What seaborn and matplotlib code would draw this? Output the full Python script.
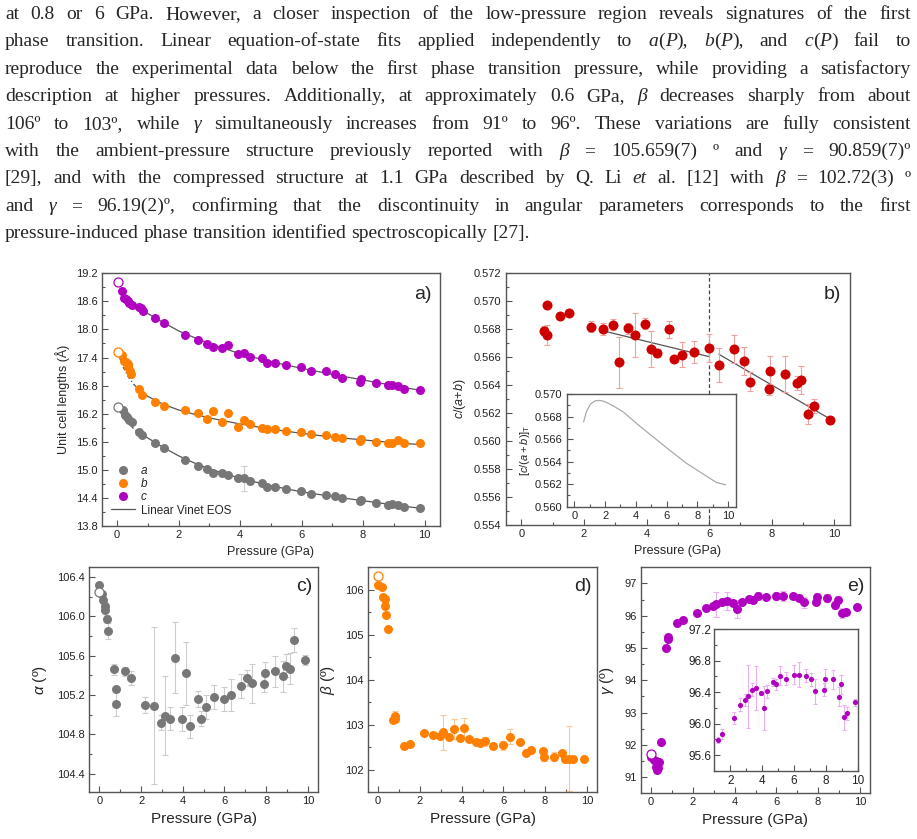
import numpy as np
import matplotlib
matplotlib.use("Agg")
import matplotlib.pyplot as plt
import seaborn as sns
from matplotlib.lines import Line2D
from matplotlib.ticker import MultipleLocator, AutoMinorLocator, FormatStrFormatter

sns.set_style("ticks")
plt.rcParams['font.family'] = ['Liberation Sans', 'DejaVu Sans']
plt.rcParams['mathtext.fontset'] = 'custom'
plt.rcParams['mathtext.rm'] = 'Liberation Sans'
plt.rcParams['mathtext.it'] = 'Liberation Sans:italic'
plt.rcParams['mathtext.bf'] = 'Liberation Sans:bold'

W, H = 917, 839

# ---------------- page text above the figure ----------------
TEXT_LINES = [
    "at 0.8 or 6 GPa. However, a closer inspection of the low-pressure region reveals signatures of the first",
    "phase transition. Linear equation-of-state fits applied independently to *a*(*P*), *b*(*P*), and *c*(*P*) fail to",
    "reproduce the experimental data below the first phase transition pressure, while providing a satisfactory",
    "description at higher pressures. Additionally, at approximately 0.6 GPa, *β* decreases sharply from about",
    "106º to 103º, while *γ* simultaneously increases from 91º to 96º. These variations are fully consistent",
    "with the ambient-pressure structure previously reported with *β* = 105.659(7) º and *γ* = 90.859(7)º",
    "[29], and with the compressed structure at 1.1 GPa described by Q. Li *et al.* [12] with *β* = 102.72(3) º",
    "and *γ* = 96.19(2)º, confirming that the discontinuity in angular parameters corresponds to the first",
    "pressure-induced phase transition identified spectroscopically [27].",
]

# ---------------- panel a: unit cell lengths ----------------
P_HIGH = [1.22, 1.51, 2.21, 2.62, 2.94, 3.13, 3.40, 3.62, 3.94, 4.13, 4.33, 4.71, 4.87, 5.13,
          5.50, 5.98, 6.31, 6.79, 7.10, 7.32, 7.90, 7.94, 8.43, 8.82, 8.95, 9.15, 9.34, 9.85]

P_A_LOW = [0.18, 0.25, 0.32, 0.40, 0.47, 0.70, 0.81]
A_LOW = [16.27, 16.17, 16.12, 16.06, 16.02, 15.80, 15.75]
A_HIGH = [15.57, 15.47, 15.20, 15.09, 15.02, 14.93, 14.93, 14.89, 14.82, 14.82, 14.76, 14.71, 14.64, 14.64,
          14.60, 14.55, 14.49, 14.47, 14.44, 14.39, 14.34, 14.36, 14.29, 14.24, 14.26, 14.24, 14.21, 14.18]
A_ERR_HIGH = [0.02, 0.02, 0.02, 0.02, 0.02, 0.02, 0.02, 0.02, 0.02, 0.27, 0.02, 0.02, 0.02, 0.02,
              0.02, 0.02, 0.02, 0.02, 0.02, 0.02, 0.02, 0.02, 0.02, 0.02, 0.02, 0.02, 0.02, 0.02]

P_B_LOW = [0.16, 0.21, 0.29, 0.34, 0.35, 0.41, 0.46, 0.70, 0.81]
B_LOW = [17.45, 17.32, 17.30, 17.27, 17.20, 17.12, 17.04, 16.72, 16.59]
B_HIGH = [16.45, 16.37, 16.27, 16.21, 16.08, 16.25, 16.03, 16.21, 15.92, 16.07, 15.99, 15.90, 15.87, 15.87,
          15.83, 15.80, 15.77, 15.74, 15.71, 15.67, 15.62, 15.66, 15.59, 15.57, 15.57, 15.64, 15.57, 15.57]
B_ERR_HIGH = [0.02, 0.02, 0.02, 0.02, 0.02, 0.08, 0.02, 0.05, 0.02, 0.06, 0.02, 0.02, 0.02, 0.02,
              0.02, 0.02, 0.02, 0.02, 0.02, 0.02, 0.02, 0.02, 0.02, 0.02, 0.02, 0.02, 0.02, 0.02]

P_C_LOW = [0.17, 0.21, 0.29, 0.34, 0.40, 0.47, 0.70, 0.79, 0.84]
C_LOW = [18.83, 18.68, 18.65, 18.60, 18.56, 18.53, 18.48, 18.46, 18.40]
C_HIGH = [18.24, 18.13, 17.88, 17.78, 17.68, 17.63, 17.60, 17.66, 17.47, 17.50, 17.42, 17.40, 17.28, 17.28,
          17.24, 17.20, 17.11, 17.12, 17.05, 16.96, 16.88, 16.95, 16.86, 16.81, 16.82, 16.79, 16.72, 16.70]

AMBIENT_ABC = [16.34, 17.52, 19.01]   # open symbols at 0 GPa

# Vinet fits
FIT_LOW_P = [0.08, 0.21, 0.38, 0.54, 0.66]
FIT_A_LOW = [16.29, 16.15, 15.99, 15.88, 15.82]
FIT_B_LOW = [17.40, 17.18, 16.97, 16.83, 16.75]
FIT_P = [0.66, 1.0, 1.5, 2.0, 2.5, 3.0, 4.0, 5.0, 6.0, 7.0, 8.0, 9.0, 9.85]
FIT_A = [15.82, 15.68, 15.48, 15.30, 15.15, 15.02, 14.82, 14.66, 14.53, 14.43, 14.34, 14.25, 14.18]
FIT_B = [16.75, 16.57, 16.40, 16.28, 16.19, 16.11, 15.98, 15.87, 15.78, 15.70, 15.64, 15.58, 15.54]
FIT_C_P = [0.70, 1.0, 1.5, 2.0, 2.5, 3.0, 4.0, 5.0, 6.0, 7.0, 8.0, 9.0, 9.85]
FIT_C = [18.46, 18.34, 18.15, 17.97, 17.83, 17.70, 17.48, 17.31, 17.17, 17.04, 16.92, 16.80, 16.70]

# ---------------- panel b: c/(a+b) ----------------
P_R_LOW = [0.72, 0.81, 0.81]
R_LOW = [0.56790, 0.56971, 0.56759]
R_ERR_LOW = [0.0003, 0.0001, 0.0007]
R_HIGH = [0.56897, 0.56914, 0.56819, 0.56802, 0.56833, 0.56563, 0.56807, 0.56759, 0.56840, 0.56659,
          0.56628, 0.56800, 0.56587, 0.56618, 0.56637, 0.56664, 0.56544, 0.56659, 0.56575, 0.56425,
          0.56370, 0.56501, 0.56480, 0.56413, 0.56437, 0.56194, 0.56249, 0.56151]
R_ERR_HIGH = [0.0002, 0.0002, 0.0004, 0.0004, 0.0004, 0.0018, 0.0004, 0.0016, 0.0004, 0.0013,
              0.0003, 0.0006, 0.0002, 0.0009, 0.0008, 0.0010, 0.0012, 0.0010, 0.0010, 0.0007,
              0.0004, 0.0011, 0.0013, 0.0005, 0.0010, 0.0007, 0.0005, 0.0001]
FIT_R1_P = [2.62, 5.98]
FIT_R1 = [0.56788, 0.56605]
FIT_R2_P = [6.31, 9.85]
FIT_R2 = [0.56621, 0.56160]
P_TRANSITION = 6.0
# inset: theoretical ratio
INSET_R_P = [0.60, 0.78, 1.04, 1.36, 1.68, 2.01, 2.55, 3.20, 4.06, 5.14, 6.22, 7.30, 8.38, 9.24, 9.85]
INSET_R = [0.56752, 0.56842, 0.56910, 0.56940, 0.56943, 0.56931, 0.56893, 0.56839, 0.56737, 0.56618,
           0.56499, 0.56385, 0.56290, 0.56215, 0.56194]

# ---------------- panel c: alpha ----------------
P_AL_LOW = [0.00, 0.14, 0.19, 0.29, 0.29, 0.34, 0.43, 0.70, 0.80, 0.80]
AL_LOW = [106.315, 106.23, 106.17, 106.11, 106.07, 105.97, 105.85, 105.46, 105.26, 105.11]
AL_ERR_LOW = [0.02, 0.02, 0.02, 0.03, 0.03, 0.04, 0.08, 0.06, 0.03, 0.12]
AL_HIGH = [105.44, 105.37, 105.10, 105.09, 104.92, 104.99, 104.96, 105.58, 104.955, 105.42, 104.88, 105.16,
           104.96, 105.08, 105.18, 105.16, 105.20, 105.29, 105.37, 105.32, 105.31, 105.42, 105.44, 105.39,
           105.50, 105.47, 105.76, 105.56]
AL_ERR_HIGH = [0.05, 0.07, 0.08, 0.80, 0.08, 0.40, 0.12, 0.36, 0.12, 0.32, 0.12, 0.08, 0.08, 0.12,
               0.12, 0.12, 0.16, 0.12, 0.08, 0.20, 0.08, 0.12, 0.16, 0.16, 0.12, 0.16, 0.12, 0.05]
AL_AMBIENT = 106.25

# ---------------- panel d: beta ----------------
P_BE_LOW = [0.00, 0.18, 0.21, 0.33, 0.34, 0.37, 0.47, 0.72, 0.82, 0.82]
BE_LOW = [106.11, 106.07, 105.84, 105.63, 105.79, 105.43, 105.13, 103.10, 103.20, 103.12]
BE_ERR_LOW = [0.02, 0.02, 0.02, 0.02, 0.02, 0.03, 0.05, 0.03, 0.10, 0.03]
BE_HIGH = [102.54, 102.57, 102.82, 102.77, 102.75, 102.83, 102.73, 102.91, 102.71, 102.93, 102.68, 102.61,
           102.60, 102.64, 102.54, 102.55, 102.74, 102.62, 102.38, 102.45, 102.41, 102.29, 102.29, 102.37,
           102.23, 102.25, 102.25, 102.25]
BE_ERR_HIGH = [0.03, 0.03, 0.03, 0.03, 0.03, 0.38, 0.03, 0.22, 0.03, 0.22, 0.03, 0.03, 0.03, 0.10,
               0.05, 0.10, 0.17, 0.05, 0.05, 0.05, 0.05, 0.10, 0.10, 0.05, 0.05, 0.73, 0.03, 0.03]
BE_AMBIENT = 106.30

# ---------------- panel e: gamma ----------------
P_GA_LOW = [0.00, 0.14, 0.24, 0.24, 0.29, 0.32, 0.32, 0.40, 0.46, 0.70, 0.82, 0.82]
GA_LOW = [91.61, 91.54, 91.51, 91.33, 91.23, 91.28, 91.47, 91.47, 92.08, 95.01, 95.27, 95.35]
GA_HIGH = [95.79, 95.87, 96.07, 96.24, 96.30, 96.35, 96.43, 96.45, 96.39, 96.20, 96.41, 96.53, 96.50, 96.61,
           96.57, 96.62, 96.62, 96.61, 96.56, 96.41, 96.43, 96.57, 96.56, 96.34, 96.50, 96.08, 96.13, 96.27]
GA_ERR_HIGH = [0.04, 0.06, 0.08, 0.08, 0.08, 0.40, 0.08, 0.28, 0.03, 0.28, 0.08, 0.05, 0.07, 0.12,
               0.08, 0.12, 0.16, 0.08, 0.08, 0.16, 0.08, 0.12, 0.12, 0.12, 0.12, 0.16, 0.08, 0.04]
GA_AMBIENT = 91.72

GRAY, GRAY_ERR = '#777777', '#cccccc'
ORANGE, ORANGE_ERR = '#ff7f00', '#ffc690'
PURPLE, PURPLE_ERR = '#b000c0', '#eab0ef'
RED, RED_ERR = '#cc0000', '#f2a0a0'
FIT_COLOR = '#555555'
FRAME = '#555555'


def px_rect(left, top, right, bottom):
    return [left / W, 1 - bottom / H, (right - left) / W, (bottom - top) / H]


def style_axis(ax, xlim, ylim, xstep, ystep, yfmt, labelsize=8):
    ax.set_xlim(*xlim)
    ax.set_ylim(*ylim)
    ax.xaxis.set_major_locator(MultipleLocator(xstep))
    ax.yaxis.set_major_locator(MultipleLocator(ystep))
    ax.xaxis.set_minor_locator(AutoMinorLocator(2))
    ax.yaxis.set_minor_locator(AutoMinorLocator(2))
    ax.yaxis.set_major_formatter(FormatStrFormatter(yfmt))
    ax.tick_params(which='both', direction='in', top=False, right=False,
                   color=FRAME, labelcolor='#222222', labelsize=labelsize, pad=3)
    ax.tick_params(which='major', length=4, width=0.8)
    ax.tick_params(which='minor', length=2, width=0.8)
    for s in ax.spines.values():
        s.set_visible(True)
        s.set_color(FRAME)
        s.set_linewidth(1.0)
    ax.set_xlabel('')
    ax.set_ylabel('')


def points(ax, x, y, yerr, color, ecolor, size=42, cap=2):
    if yerr is not None:
        ax.errorbar(x, y, yerr=yerr, fmt='none', ecolor=ecolor, elinewidth=0.8,
                    capsize=cap, capthick=0.8, zorder=2)
    sns.scatterplot(x=x, y=y, ax=ax, color=color, s=size, linewidth=0, zorder=3, legend=False)


def ambient(ax, x, y, color, size=6.5):
    ax.plot(x, y, 'o', mfc='white', mec=color, mew=0.9, ms=size, zorder=3)


def fit_line(ax, x, y, ls='-'):
    sns.lineplot(x=x, y=y, ax=ax, color=FIT_COLOR, lw=0.9, sort=False, estimator=None,
                 linestyle=ls, zorder=1)


def panel_label(ax, s):
    ax.text(0.975, 0.915, s, transform=ax.transAxes, ha='right', va='center', fontsize=14)


fig = plt.figure(figsize=(W / 100, H / 100), dpi=100)

# ---- justified page text ----
renderer = fig.canvas.get_renderer()
LEFT, RIGHT, BASE0, STEP, TSIZE = 5, 911, 19, 27.4, 14.0
for i, line in enumerate(TEXT_LINES):
    y = 1 - (BASE0 + STEP * i) / H
    words = []
    for w in line.split(' '):
        if not w:
            continue
        runs = []
        for k, part in enumerate(w.split('*')):
            if part:
                t = fig.text(0, y, part, family='Liberation Serif', size=TSIZE,
                             style='italic' if k % 2 else 'normal', va='baseline', ha='left')
                runs.append((t, t.get_window_extent(renderer).width))
        words.append(runs)
    widths = [sum(r[1] for r in runs) for runs in words]
    if i < len(TEXT_LINES) - 1:
        gap = (RIGHT - LEFT - sum(widths)) / (len(words) - 1)
    else:
        gap = TSIZE * 100 / 72 * 0.25
    x = LEFT
    for runs, wd in zip(words, widths):
        xx = x
        for t, rw in runs:
            t.set_x(xx / W)
            xx += rw
        x += wd + gap

# ---- a) unit cell lengths ----
ax_a = fig.add_axes(px_rect(101.7, 273.3, 440, 526))
fit_line(ax_a, FIT_LOW_P, FIT_A_LOW, ls=(0, (3, 2, 1, 2)))
fit_line(ax_a, FIT_LOW_P, FIT_B_LOW, ls=(0, (3, 2, 1, 2)))
fit_line(ax_a, FIT_P, FIT_A)
fit_line(ax_a, FIT_P, FIT_B)
fit_line(ax_a, FIT_C_P, FIT_C)
points(ax_a, P_A_LOW + P_HIGH, A_LOW + A_HIGH, [0.02] * len(A_LOW) + A_ERR_HIGH, GRAY, GRAY_ERR)
points(ax_a, P_B_LOW + P_HIGH, B_LOW + B_HIGH, [0.02] * len(B_LOW) + B_ERR_HIGH, ORANGE, ORANGE_ERR)
points(ax_a, P_C_LOW + P_HIGH, C_LOW + C_HIGH, None, PURPLE, PURPLE_ERR)
for val, col in zip(AMBIENT_ABC, [GRAY, ORANGE, PURPLE]):
    ambient(ax_a, [0.02], [val], col)
style_axis(ax_a, (-0.5, 10.5), (13.8, 19.2), 2, 0.6, '%.1f')
ax_a.set_xlabel('Pressure (GPa)', fontsize=9, labelpad=4)
ax_a.set_ylabel('Unit cell lengths (Å)', fontsize=9, labelpad=4)
panel_label(ax_a, 'a)')
handles = [Line2D([], [], marker='o', ls='none', color=c, ms=6.5, mew=0) for c in (GRAY, ORANGE, PURPLE)]
handles.append(Line2D([], [], color=FIT_COLOR, lw=0.9))
leg = ax_a.legend(handles, ['a', 'b', 'c', 'Linear Vinet EOS'], loc='lower left', frameon=False,
                  fontsize=8.5, handlelength=2.0, handletextpad=0.5, labelspacing=0.1,
                  borderaxespad=0.4)
for t in leg.get_texts()[:3]:
    t.set_fontstyle('italic')

# ---- b) c/(a+b) ----
ax_b = fig.add_axes(px_rect(505.7, 273.3, 850, 525))
ax_b.axvline(P_TRANSITION, color='#444444', lw=0.9, ls=(0, (3, 2)), zorder=1)
fit_line(ax_b, FIT_R1_P, FIT_R1)
fit_line(ax_b, FIT_R2_P, FIT_R2)
points(ax_b, P_R_LOW + P_HIGH, R_LOW + R_HIGH, R_ERR_LOW + R_ERR_HIGH, RED, RED_ERR, size=52, cap=2.2)
style_axis(ax_b, (-0.5, 10.5), (0.554, 0.572), 2, 0.002, '%.3f')
ax_b.set_xlabel('Pressure (GPa)', fontsize=9, labelpad=4)
ax_b.set_ylabel('$c$/($a$+$b$)', fontsize=9, labelpad=4)
panel_label(ax_b, 'b)')

ax_bi = fig.add_axes(px_rect(566.7, 394, 735.7, 506.7))
ax_bi.set_facecolor('white')
sns.lineplot(x=INSET_R_P, y=INSET_R, ax=ax_bi, color='#aaaaaa', lw=0.9, sort=False, estimator=None)
style_axis(ax_bi, (-0.5, 10.5), (0.560, 0.570), 2, 0.002, '%.3f')
ax_bi.set_ylabel('$[c/(a+b)]_{\\mathrm{T}}$', fontsize=8, labelpad=2)

# ---- c) alpha ----
ax_c = fig.add_axes(px_rect(89, 567.3, 318.3, 792.3))
points(ax_c, P_AL_LOW + P_HIGH, AL_LOW + AL_HIGH, AL_ERR_LOW + AL_ERR_HIGH, GRAY, GRAY_ERR)
ambient(ax_c, [0.0], [AL_AMBIENT], GRAY)
style_axis(ax_c, (-0.5, 10.5), (104.21, 106.5), 2, 0.4, '%.1f')
ax_c.set_xlabel('Pressure (GPa)', fontsize=11, labelpad=4)
ax_c.set_ylabel('$\\alpha$ (º)', fontsize=11, labelpad=6)
panel_label(ax_c, 'c)')

# ---- d) beta ----
ax_d = fig.add_axes(px_rect(367.7, 567.3, 597.3, 792.3))
points(ax_d, P_BE_LOW + P_HIGH, BE_LOW + BE_HIGH, BE_ERR_LOW + BE_ERR_HIGH, ORANGE, ORANGE_ERR)
ambient(ax_d, [0.0], [BE_AMBIENT], ORANGE)
style_axis(ax_d, (-0.5, 10.5), (101.5, 106.5), 2, 1, '%d')
ax_d.set_xlabel('Pressure (GPa)', fontsize=11, labelpad=4)
ax_d.set_ylabel('$\\beta$ (º)', fontsize=11, labelpad=6)
panel_label(ax_d, 'd)')

# ---- e) gamma ----
ax_e = fig.add_axes(px_rect(640.7, 567.3, 870.3, 793.3))
points(ax_e, P_GA_LOW + P_HIGH, GA_LOW + GA_HIGH, [0.03] * len(GA_LOW) + GA_ERR_HIGH, PURPLE, PURPLE_ERR)
ambient(ax_e, [0.0], [GA_AMBIENT], PURPLE)
style_axis(ax_e, (-0.5, 10.5), (90.5, 97.5), 2, 1, '%d')
ax_e.set_xlabel('Pressure (GPa)', fontsize=11, labelpad=4)
ax_e.set_ylabel('$\\gamma$ (º)', fontsize=11, labelpad=6)
panel_label(ax_e, 'e)')

ax_ei = fig.add_axes(px_rect(714.3, 629, 858.3, 771))
ax_ei.set_facecolor('white')
points(ax_ei, P_HIGH, GA_HIGH, GA_ERR_HIGH, PURPLE, PURPLE_ERR, size=14, cap=1.5)
style_axis(ax_ei, (1.0, 10.05), (95.4, 97.2), 2, 0.4, '%.1f', labelsize=8.5)
ax_ei.tick_params(axis='y', pad=2)

fig.savefig('out.png', dpi=100)
